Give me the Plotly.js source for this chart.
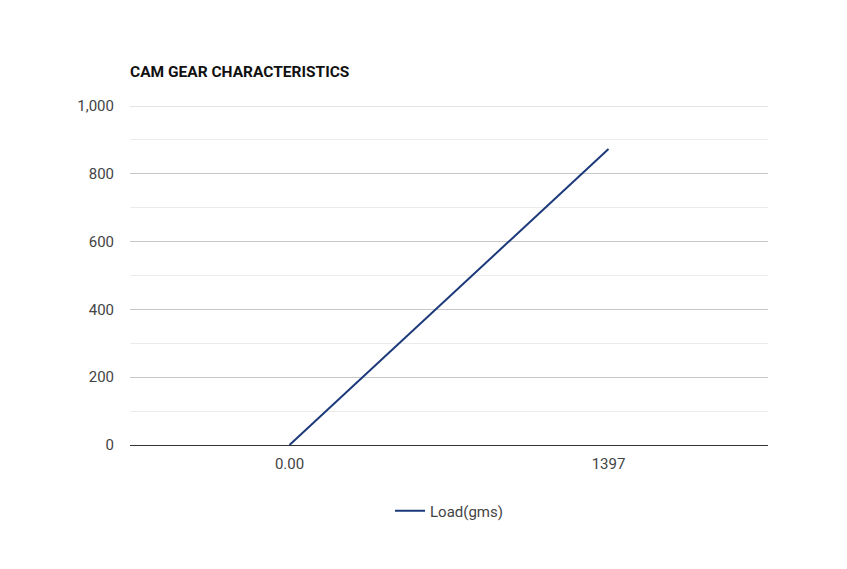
<!DOCTYPE html>
<html>
<head>
<meta charset="utf-8">
<script src="https://cdn.plot.ly/plotly-3.0.1.min.js"></script>
<style>html,body{margin:0;padding:0;background:#fff;}#chart{width:847px;height:569px;}</style>
</head>
<body>
<div id="chart"></div>
<script>
const categories = ["0.00", "1397"];
const loadValues = [0, 873];
const seriesName = "Load(gms)";
const yTickVals = [0, 200, 400, 600, 800, 1000];
const yMax = 1000;

const trace = {
  x: categories,
  y: loadValues,
  type: "scatter",
  mode: "lines",
  name: seriesName,
  line: {color: "#1c3a7a", width: 2}
};

const layout = {
  width: 847, height: 569,
  margin: {l: 130, r: 79, t: 106, b: 124},
  paper_bgcolor: "#fff", plot_bgcolor: "#fff",
  font: {family: "Roboto, Arial, sans-serif", size: 15, color: "#444"},
  title: {
    text: "<b>CAM GEAR CHARACTERISTICS</b>",
    font: {family: "Roboto, Arial, sans-serif", size: 15.5, color: "#111"},
    xref: "paper", x: 0, xanchor: "left",
    yref: "container", y: 1 - 72/569, yanchor: "middle"
  },
  xaxis: {
    type: "category",
    range: [-0.5, 1.5],
    showgrid: false,
    showline: false,
    zeroline: false,
    ticks: "outside", ticklen: 5, tickcolor: "rgba(0,0,0,0)",
    tickfont: {size: 15, color: "#444"}
  },
  yaxis: {
    range: [0, yMax],
    tickvals: yTickVals,
    tickformat: ",",
    showgrid: true, gridcolor: "#c8c8c8", gridwidth: 1,
    minor: {dtick: 100, tick0: 0, showgrid: true, gridcolor: "#ebebeb", gridwidth: 1},
    zeroline: true, zerolinecolor: "#333", zerolinewidth: 1,
    ticks: "outside", ticklen: 12, tickcolor: "rgba(0,0,0,0)",
    tickfont: {size: 15, color: "#444"},
    fixedrange: true
  },
  shapes: [{
    type: "line", xref: "paper", yref: "y",
    x0: 0, x1: 1, y0: yMax, y1: yMax,
    line: {color: "#c8c8c8", width: 1},
    layer: "below"
  }],
  showlegend: true,
  legend: {
    orientation: "h",
    x: 0.5, xanchor: "center",
    y: -66/339, yanchor: "middle",
    font: {size: 15, color: "#444"}
  }
};

Plotly.newPlot("chart", [trace], layout, {displayModeBar: false, staticPlot: true});
</script>
</body>
</html>
